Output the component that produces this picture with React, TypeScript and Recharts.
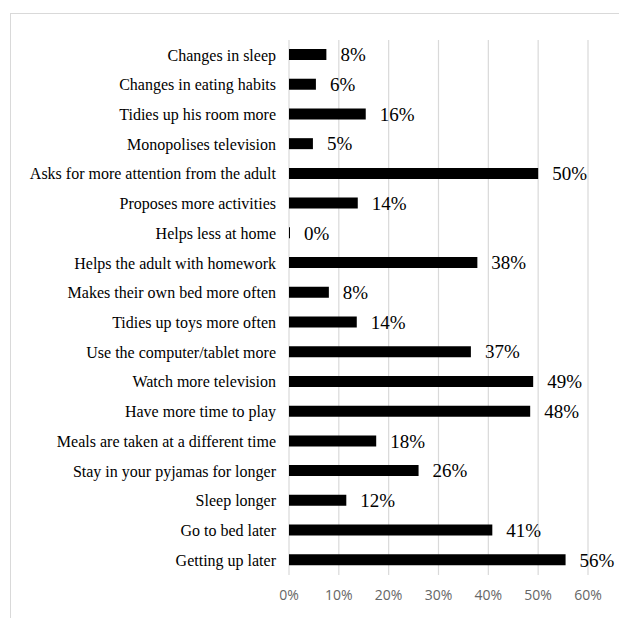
import { Bar, BarChart, CartesianGrid, LabelList, XAxis, YAxis } from "recharts";

// Behaviour changes observed in the child (share of respondents, %)
const categories = [
  "Changes in sleep",
  "Changes in eating habits",
  "Tidies up his room more",
  "Monopolises television",
  "Asks for more attention from the adult",
  "Proposes more activities",
  "Helps less at home",
  "Helps the adult with homework",
  "Makes their own bed more often",
  "Tidies up toys more often",
  "Use the computer/tablet more",
  "Watch more television",
  "Have more time to play",
  "Meals are taken at a different time",
  "Stay in your pyjamas for longer",
  "Sleep longer",
  "Go to bed later",
  "Getting up later",
];

// bar lengths
const values = [
  7.5, 5.4, 15.4, 4.8, 50.0, 13.8, 0.2, 37.8, 8.0, 13.6, 36.5, 49.0, 48.4,
  17.5, 26.0, 11.5, 40.8, 55.5,
];

// printed labels (rounded as in the source)
const valueLabels = [
  "8%", "6%", "16%", "5%", "50%", "14%", "0%", "38%", "8%", "14%", "37%",
  "49%", "48%", "18%", "26%", "12%", "41%", "56%",
];

const xTicks = [0, 10, 20, 30, 40, 50, 60];

const rows = categories.map((name, i) => ({
  name,
  value: values[i],
  label: valueLabels[i],
}));

const SERIF = "Liberation Serif, Times New Roman, serif";

export default function App() {
  return (
    <div
      style={{
        position: "absolute",
        left: 0,
        top: 0,
        width: 619,
        height: 618,
        background: "#fff",
        overflow: "hidden",
      }}
    >
      <div
        style={{
          position: "absolute",
          left: 10,
          top: 13,
          width: 700,
          height: 700,
          borderLeft: "1px solid #d9d9d9",
          borderTop: "1px solid #d9d9d9",
        }}
      />
      <BarChart
        width={619}
        height={618}
        data={rows}
        layout="vertical"
        margin={{ top: 40, right: 31, bottom: 13, left: 0 }}
        barCategoryGap={0}
        style={{ position: "absolute", left: 0, top: 0 }}
      >
        <CartesianGrid horizontal={false} stroke="#d9d9d9" strokeWidth={1.2} />
        <XAxis
          type="number"
          domain={[0, 60]}
          ticks={xTicks}
          tickFormatter={(v: number) => `${v}%`}
          axisLine={false}
          tickLine={false}
          tickMargin={9}
          height={30}
          tick={{ fontSize: 14, fill: "#666666", fontFamily: "Open Sans" }}
        />
        <YAxis
          type="category"
          dataKey="name"
          width={289}
          axisLine={false}
          tickLine={false}
          tickMargin={7}
          interval={0}
          tick={{ fontSize: 16, fill: "#000", fontFamily: SERIF }}
        />
        <Bar dataKey="value" fill="#000" barSize={11} isAnimationActive={false}>
          <LabelList
            dataKey="label"
            position="right"
            offset={14}
            fill="#000"
            fontSize={19}
            fontFamily={SERIF}
          />
        </Bar>
      </BarChart>
    </div>
  );
}
